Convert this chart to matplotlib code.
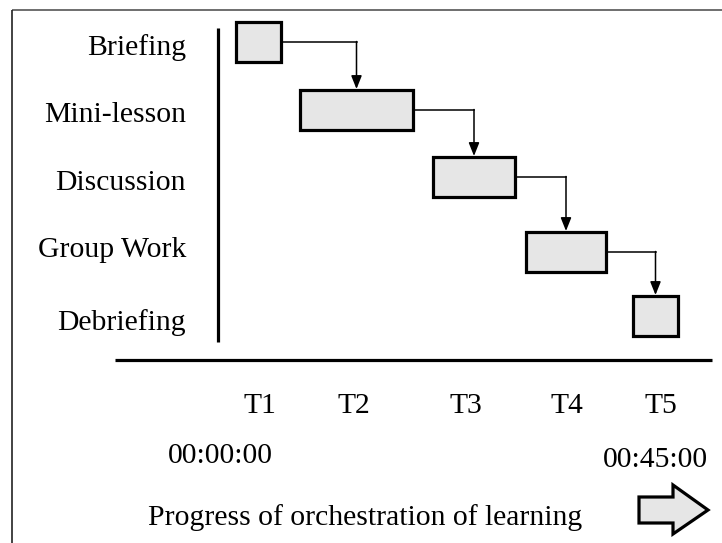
import numpy as np
from matplotlib import pyplot as plt
from matplotlib.patches import Rectangle, Polygon

# activities of the lesson, top to bottom
tasks = ['Briefing', 'Mini-lesson', 'Discussion', 'Group Work', 'Debriefing']
starts = [236, 300, 433, 526, 633]
ends = [281, 413, 515, 606, 678]
row_y = [42, 110, 177, 252, 316]
label_base = [55, 122, 190, 257, 330]

time_marks = ['T1', 'T2', 'T3', 'T4', 'T5']
time_x = [260, 354, 466, 567, 661]

box_h = 40
font = dict(family='Liberation Serif', fontsize=21.3, color='black')

fig = plt.figure(figsize=(7.22, 5.43), dpi=100)
ax = fig.add_axes([0, 0, 1, 1])
ax.set_xlim(0, 722)
ax.set_ylim(543, 0)
ax.axis('off')

# frame (only top and left show)
ax.plot([12, 722], [9.5, 9.5], color='#555555', lw=1.2, solid_capstyle='butt')
ax.plot([12, 12], [9.5, 543], color='#222222', lw=1.2, solid_capstyle='butt')

# axes of the diagram
ax.plot([218, 218], [28, 342], color='black', lw=2.3, solid_capstyle='butt')
ax.plot([115, 712], [360, 360], color='black', lw=2.3, solid_capstyle='butt')

for i, name in enumerate(tasks):
    x0, x1, yc = starts[i], ends[i], row_y[i]
    ax.add_patch(Rectangle((x0, yc - box_h / 2), x1 - x0, box_h,
                           facecolor='#e6e6e6', edgecolor='black', lw=2.3, zorder=3))
    ax.text(186, label_base[i], name, ha='right', va='baseline', **font)
    if i + 1 < len(tasks):
        xm = (starts[i + 1] + ends[i + 1]) / 2
        ytop = row_y[i + 1] - box_h / 2
        ax.plot([x1, xm], [yc, yc], color='black', lw=1.1)
        ax.annotate('', xy=(xm, ytop - 1), xytext=(xm, yc - 0.5),
                    arrowprops=dict(arrowstyle='-|>,head_length=0.8,head_width=0.32',
                                    color='black', lw=1.1, shrinkA=0, shrinkB=0))

for t, x in zip(time_marks, time_x):
    ax.text(x, 413, t, ha='center', va='baseline', **font)

ax.text(220, 463, '00:00:00', ha='center', va='baseline', **font)
ax.text(655, 467, '00:45:00', ha='center', va='baseline', **font)
ax.text(365, 525, 'Progress of orchestration of learning', ha='center', va='baseline', **font)

# big progress arrow
arrow_pts = np.array([[639, 497], [673, 497], [673, 485], [708, 510],
                      [673, 534], [673, 523], [639, 523]])
ax.add_patch(Polygon(arrow_pts, closed=True, facecolor='#e6e6e6',
                     edgecolor='black', lw=2.3, joinstyle='miter'))

fig.savefig('out.png', dpi=100)
